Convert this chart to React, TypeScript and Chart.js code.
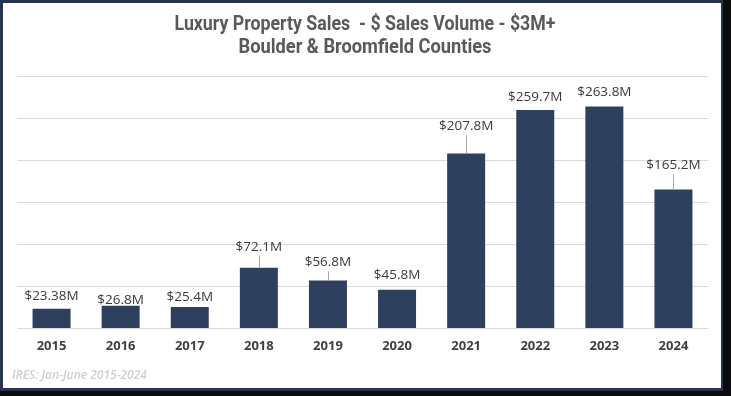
import React, { useEffect, useRef } from "react";
import { Chart, registerables } from "chart.js";

Chart.register(...registerables);

const CATEGORIES = ["2015", "2016", "2017", "2018", "2019", "2020", "2021", "2022", "2023", "2024"];
const SALES_VOLUME = [23.38, 26.8, 25.4, 72.1, 56.8, 45.8, 207.8, 259.7, 263.8, 165.2];
const VALUE_LABELS = ["$23.38M", "$26.8M", "$25.4M", "$72.1M", "$56.8M", "$45.8M", "$207.8M", "$259.7M", "$263.8M", "$165.2M"];
const TITLE_LINES = ["Luxury Property Sales  - $ Sales Volume - $3M+", "Boulder & Broomfield Counties"];
const SOURCE_NOTE = "IRES: Jan-June 2015-2024";
const Y_MIN = 0;
const Y_MAX = 300;
const Y_STEP = 50;

// label placement (style): vertical offset of label centre from bar top, and whether a leader line is drawn
const LABEL_OFFSETS = [-13, -5.5, -9.5, -21, -18, -14.5, -27, -12.5, -14, -24];
const LABEL_LEADERS = [false, false, false, true, true, false, true, false, false, true];

const barLabelPlugin = {
  id: "barLabels",
  afterDatasetsDraw(chart: any) {
    const ctx = chart.ctx;
    const meta = chart.getDatasetMeta(0);
    ctx.save();
    ctx.font = '500 13.5px "Open Sans", sans-serif';
    ctx.fillStyle = "#3a3a3a";
    ctx.textAlign = "center";
    ctx.textBaseline = "middle";
    meta.data.forEach((bar: any, i: number) => {
      const { x, y } = bar.getProps(["x", "y"], true);
      const cy = y + LABEL_OFFSETS[i];
      ctx.fillText(VALUE_LABELS[i], x, cy);
      if (LABEL_LEADERS[i]) {
        ctx.strokeStyle = "#a6a6a6";
        ctx.lineWidth = 1;
        ctx.beginPath();
        ctx.moveTo(Math.round(x) + 0.5, cy + 9);
        ctx.lineTo(Math.round(x) + 0.5, y);
        ctx.stroke();
      }
    });
    ctx.restore();
  },
};

const textPlugin = {
  id: "extraText",
  afterDraw(chart: any) {
    const ctx = chart.ctx;
    const w = chart.width;
    ctx.save();
    ctx.fillStyle = "#595959";
    ctx.textAlign = "center";
    ctx.textBaseline = "middle";
    ctx.font = 'bold 20px Roboto, "Open Sans", sans-serif';
    const targets = [381, 253];
    const ys = [22, 45];
    TITLE_LINES.forEach((line, i) => {
      const m = ctx.measureText(line).width;
      const s = Math.min(1, targets[i] / m);
      ctx.save();
      ctx.translate(w / 2 + 3, ys[i]);
      ctx.scale(s, 1);
      ctx.fillText(line, 0, 0);
      ctx.restore();
    });
    ctx.font = 'italic 600 12px "Open Sans", sans-serif';
    ctx.fillStyle = "#cfcfcf";
    ctx.textAlign = "left";
    ctx.fillText(SOURCE_NOTE, 9, 373);
    ctx.restore();
  },
};

export default function App() {
  const ref = useRef<HTMLCanvasElement>(null);
  useEffect(() => {
    if (!ref.current) return;
    const chart = new Chart(ref.current, {
      type: "bar",
      data: {
        labels: CATEGORIES,
        datasets: [
          {
            data: SALES_VOLUME,
            backgroundColor: "#2f405f",
            barPercentage: 0.55,
            categoryPercentage: 1,
          },
        ],
      },
      options: {
        responsive: false,
        animation: false,
        layout: { padding: { left: 14, right: 13, top: 73, bottom: 24 } },
        plugins: { legend: { display: false }, tooltip: { enabled: false }, title: { display: false } },
        scales: {
          x: {
            grid: { display: false, drawTicks: false },
            border: { display: false },
            ticks: {
              padding: 10,
              color: "#404040",
              font: { family: '"Open Sans", sans-serif', size: 13, weight: "bold" },
            },
          },
          y: {
            min: Y_MIN,
            max: Y_MAX,
            ticks: { display: false, stepSize: Y_STEP },
            grid: { color: "#d9d9d9", lineWidth: 1, drawTicks: false },
            border: { display: false },
          },
        },
      },
      plugins: [barLabelPlugin, textPlugin],
    });
    return () => chart.destroy();
  }, []);

  return (
    <div style={{ position: "fixed", left: 0, top: 0, width: 731, height: 396, background: "#0b0b0b" }}>
      <div style={{ position: "absolute", left: 0, top: 0, width: 723, height: 391, background: "#27344f" }}>
        <div style={{ position: "absolute", left: 3, top: 3, width: 718, height: 385, background: "#ffffff" }}>
          <canvas ref={ref} width={718} height={385} style={{ display: "block" }} />
        </div>
      </div>
    </div>
  );
}
